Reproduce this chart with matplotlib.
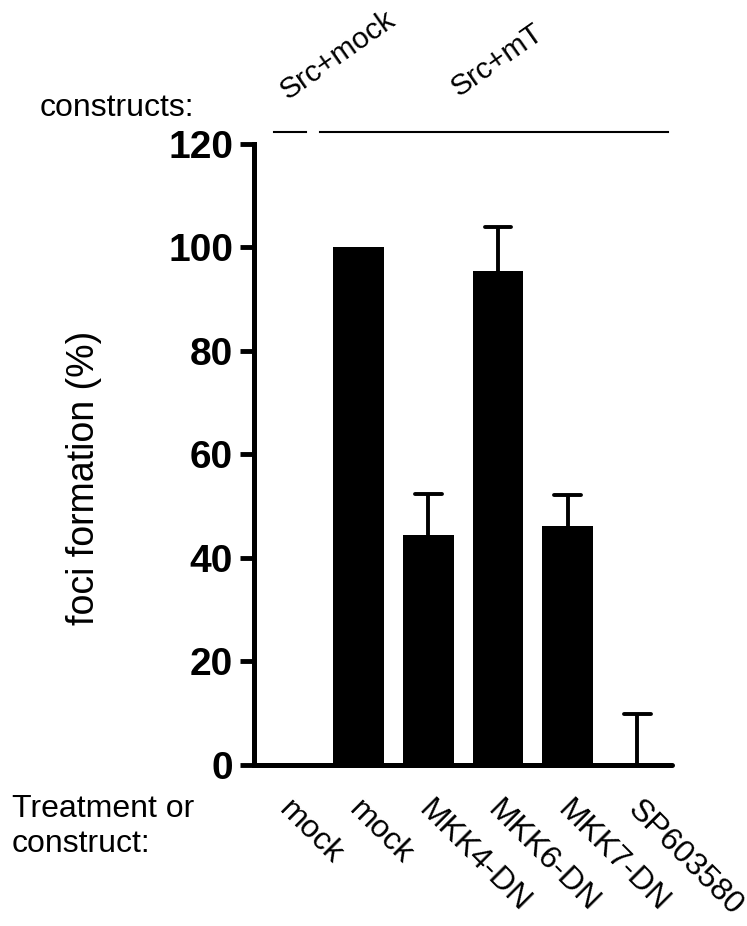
import matplotlib
matplotlib.use("Agg")
import matplotlib.pyplot as plt
import numpy as np

plt.rcParams['font.family'] = ['Liberation Sans', 'DejaVu Sans']

labels = ['mock', 'mock', 'MKK4-DN', 'MKK6-DN', 'MKK7-DN', 'SP603580']
foci = [0, 100, 44.3, 95.3, 46.2, 0]
err_up = [0, 0, 8.1, 8.5, 6.0, 9.8]
yticks = [0, 20, 40, 60, 80, 100, 120]

fig = plt.figure(figsize=(7.47, 9.26), dpi=100)
ax = fig.add_axes([0.340, 0.174, 0.560, 0.671])

x = np.arange(len(labels))
ax.bar(x, foci, width=0.73, color='black', zorder=2)

# upper error bars only (whisker + cap)
for xi, v, e in zip(x, foci, err_up):
    if e > 0:
        ax.vlines(xi, v, v + e, color='black', lw=2.8, zorder=1)
        ax.hlines(v + e, xi - 0.19, xi + 0.19, color='black', lw=2.8,
                  capstyle='round', zorder=1)

ax.set_xlim(-0.5, 5.5)
ax.set_ylim(0, 120)
ax.set_yticks(yticks)
ax.set_yticklabels([str(v) for v in yticks], fontsize=28, fontweight='bold')
ax.tick_params(axis='y', length=10, width=3.5, pad=5)
ax.set_xticks([])

for s in ['top', 'right']:
    ax.spines[s].set_visible(False)
ax.spines['left'].set_linewidth(3.6)
ax.spines['bottom'].set_linewidth(3.6)
ax.spines['bottom'].set_capstyle('round')

fig.text(84 / 747, 1 - 478 / 926, 'foci formation (%)', fontsize=27,
         rotation=90, ha='center', va='center')

# rotated treatment labels
for xi, lab in zip(x, labels):
    ax.annotate(lab, xy=(xi, 0), xycoords=('data', 'axes fraction'),
                xytext=(-4, -29), textcoords='offset points',
                rotation=-45, rotation_mode='anchor', ha='left', va='center',
                fontsize=23, annotation_clip=False)

# construct group lines and labels
ax.plot([-0.21, 0.25], [122.3, 122.3], color='black', lw=1.5, clip_on=False)
ax.plot([0.45, 5.44], [122.3, 122.3], color='black', lw=1.5, clip_on=False)
ax.text(-0.02, 128.5, 'Src+mock', rotation=35, rotation_mode='anchor',
        ha='left', va='baseline', fontsize=21.5, clip_on=False)
ax.text(2.43, 129.0, 'Src+mT', rotation=35, rotation_mode='anchor',
        ha='left', va='baseline', fontsize=21.5, clip_on=False)

fig.text(0.0535, 1 - 116 / 926, 'constructs:', fontsize=23, ha='left', va='baseline')
fig.text(0.016, 1 - 817 / 926, 'Treatment or', fontsize=23, ha='left', va='baseline')
fig.text(0.016, 1 - 852 / 926, 'construct:', fontsize=23, ha='left', va='baseline')

fig.savefig('out.png', dpi=100)
